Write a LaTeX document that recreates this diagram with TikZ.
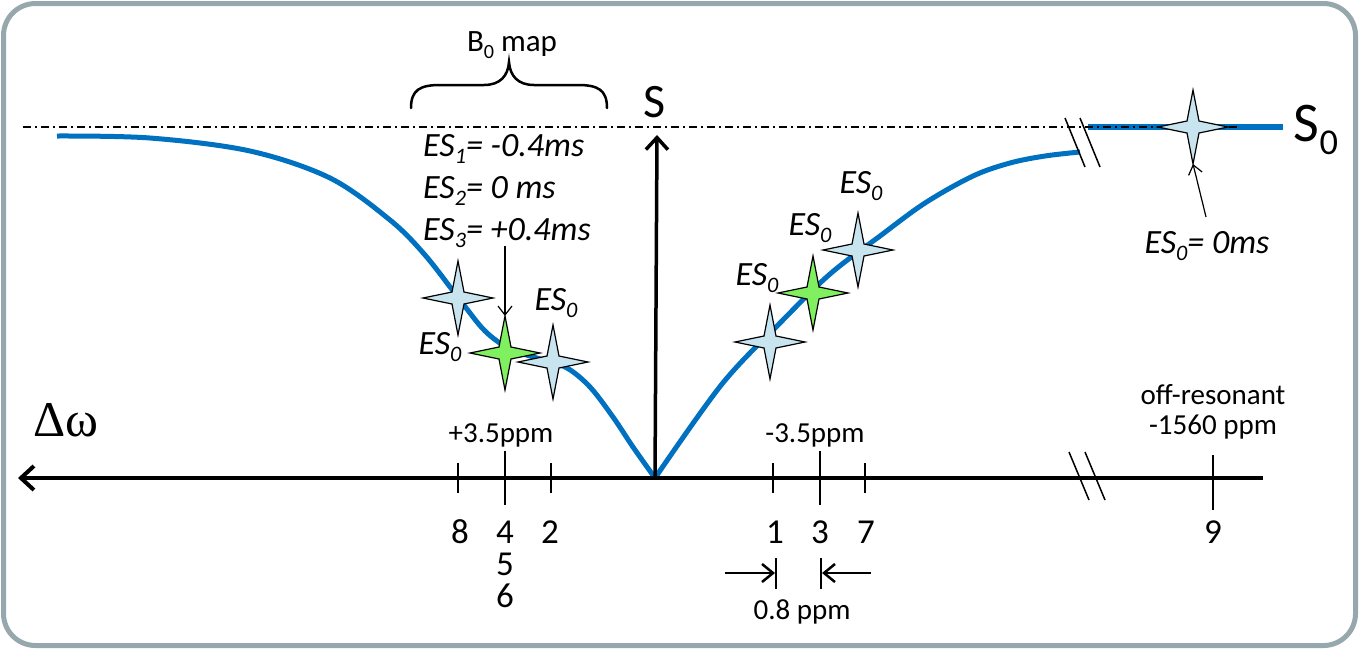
\documentclass[tikz,border=0pt]{standalone}
\usepackage{fontspec}
\setmainfont{Carlito}
\newfontfamily\greekfont{Liberation Serif}
\usetikzlibrary{arrows.meta}
\makeatletter
\newcommand\lo[1]{\raisebox{-0.22em}{\fontsize{\fpeval{0.65*\f@size}}{0}\selectfont #1}}
\makeatother
\definecolor{curveblue}{RGB}{0,112,192}
\definecolor{starblue}{RGB}{200,228,238}
\definecolor{stargreen}{RGB}{128,240,96}
\definecolor{framegray}{RGB}{150,168,174}
\tikzset{
  sparkle/.pic={
    \path[pic actions] (0,-37) -- (6,-6) -- (35,0) -- (6,6) -- (0,37) -- (-6,6) -- (-35,0) -- (-6,-6) -- cycle;
    \coordinate (-n) at (0,-37);
    \coordinate (-s) at (0,37);
  },
  sb/.style={draw=black, fill=starblue, line width=1.2pt},
  sg/.style={draw=black, fill=stargreen, line width=1.2pt},
  es/.style={font=\fontsize{34}{40}\selectfont\itshape, inner sep=0pt},
  num/.style={font=\fontsize{35}{40}\selectfont, inner sep=0pt},
  small/.style={font=\fontsize{29}{34}\selectfont, inner sep=0pt},
  tick/.style={line width=1.5pt},
  thinarrow/.style={line width=1.2pt, -{Straight Barb[length=9pt,width=14pt]}},
  brk/.style={line width=1.5pt},
}
\begin{document}
\begin{tikzpicture}[x=1pt,y=-1pt]
\useasboundingbox (0,0) rectangle (1359,649);
\draw[framegray, line width=5pt, rounded corners=32pt] (3.5,3.5) rectangle (1355.5,645.5);

% dash-dot reference line
\coordinate (ddL) at (23,127);
\coordinate (ddR) at (1240,127);

% blue curves
\draw[curveblue, line width=5pt] plot[smooth, tension=0.55] coordinates {
 (57,136) (150,138) (250,151) (330,178) (390,220) (425,255) (460,300) (485,331) (510,349) (540,359) (567,368) (590,387) (613,417) (633,447) (655,478)};
\draw[curveblue, line width=5pt] plot[smooth, tension=0.55] coordinates {
 (655,478) (722,384) (780,323) (830,274) (880,236) (925,203) (973,176) (1010,163) (1045,156) (1080,152)};
\draw[curveblue, line width=6pt] (1088,127) -- (1283,127);
\draw[line width=1.5pt, dash pattern=on 8pt off 4pt on 2pt off 4pt] (ddL) -- (ddR);

% break marks top
\draw[brk] (1065,118) -- (1085,167);
\draw[brk] (1080,118) -- (1100,167);

% horizontal axis
\coordinate (axL) at (18,478);
\coordinate (axR) at (1263,478);
\coordinate (orig) at (655,478);
\draw[line width=4pt, {Straight Barb[length=13pt,width=24pt]}-] (axL) -- (axR);
\draw[brk] (1069,452) -- (1089,500);
\draw[brk] (1085,452) -- (1105,500);

% vertical S axis
\coordinate (stip) at (657,135);
\draw[line width=3.5pt, -{Straight Barb[length=12pt,width=22pt]}] (orig) -- (stip);
\node[font=\fontsize{48}{50}\selectfont, inner sep=0pt] (S) at (655,102) {S};
\node[font=\fontsize{56}{60}\selectfont, inner sep=0pt] (S0) at (1316,130) {S\lo{0}};
\node[font=\fontsize{50}{55}\greekfont, inner sep=0pt] (dw) at (66,420) {Δω};

% ticks
\draw[tick] (458,463) -- (458,493);
\draw[tick] (505,451) -- (505,505);
\draw[tick] (551,463) -- (551,493);
\draw[tick] (773,463) -- (773,493);
\draw[tick] (820,451) -- (820,505);
\draw[tick] (865,463) -- (865,493);
\draw[tick] (1213,455) -- (1213,510);

% tick labels
\node[num] (n8) at (460,532) {8};
\node[num] (n4) at (505,532) {4};
\node[num] (n5) at (505,564) {5};
\node[num] (n6) at (505,596) {6};
\node[num] (n2) at (550,532) {2};
\node[num] (n1) at (775,532) {1};
\node[num] (n3) at (820,532) {3};
\node[num] (n7) at (866,532) {7};
\node[num] (n9) at (1213,532) {9};
\node[small] (p35) at (501,435) {+3.5ppm};
\node[small] (m35) at (815,435) {-3.5ppm};
\node[small, align=center] (off) at (1213,412) {off-resonant\\[-4pt]-1560 ppm};

% 0.8 ppm marker
\coordinate (b1t) at (776,558); \coordinate (b1b) at (776,589);
\coordinate (b2t) at (821,558); \coordinate (b2b) at (821,589);
\coordinate (a1s) at (725,573); \coordinate (a1e) at (775,573);
\coordinate (a2s) at (871,573); \coordinate (a2e) at (822,573);
\draw[line width=1.5pt] (b1t) -- (b1b);
\draw[line width=1.5pt] (b2t) -- (b2b);
\draw[line width=2.5pt, -{Straight Barb[length=11pt,width=18pt]}] (a1s) -- (a1e);
\draw[line width=2.5pt, -{Straight Barb[length=11pt,width=18pt]}] (a2s) -- (a2e);
\node[small] (p08) at (802,612) {0.8 ppm};

% B0 map brace
\draw[line width=2.5pt, line cap=round] (411,108) .. controls (411,90) and (420,85) .. (440,85) -- (484,85) .. controls (500,85) and (508,76) .. (509,62)
  .. controls (510,76) and (518,85) .. (534,85) -- (578,85) .. controls (598,85) and (607,90) .. (607,108);
\node[font=\fontsize{31}{34}\selectfont, inner sep=0pt] (b0) at (512,45) {B\lo{0} map};

% ES labels
\node[es, anchor=base west] (es1) at (423,156) {ES\lo{1}= -0.4ms};
\node[es, anchor=base west] (es2) at (423,198) {ES\lo{2}= 0 ms};
\node[es, anchor=base west] (es3) at (423,240) {ES\lo{3}= +0.4ms};

% stars left cluster
\pic[sb] (sA) at (458,298) {sparkle};
\pic[sg] (sG1) at (505,353) {sparkle};
\pic[sb] (sC) at (553,362) {sparkle};
\coordinate (arr1s) at (505,246);
\draw[thinarrow] (arr1s) -- (sG1-n);
\node[es] (l1) at (556,303) {ES\lo{0}};
\node[es] (l2) at (440,347) {ES\lo{0}};

% stars right cluster
\pic[sb] (sD) at (770,342) {sparkle};
\pic[sg] (sG2) at (813,293) {sparkle};
\pic[sb] (sE) at (858,250) {sparkle};
\node[es] (l3) at (757,278) {ES\lo{0}};
\node[es] (l4) at (810,228) {ES\lo{0}};
\node[es] (l5) at (861,186) {ES\lo{0}};

% off-resonant star
\pic[sb] (sF) at (1193,127) {sparkle};
\coordinate (arr2s) at (1206,217);
\draw[thinarrow] (arr2s) -- (sF-s);
\node[es] (l6) at (1207,246) {ES\lo{0}= 0ms};
\end{tikzpicture}
\end{document}
